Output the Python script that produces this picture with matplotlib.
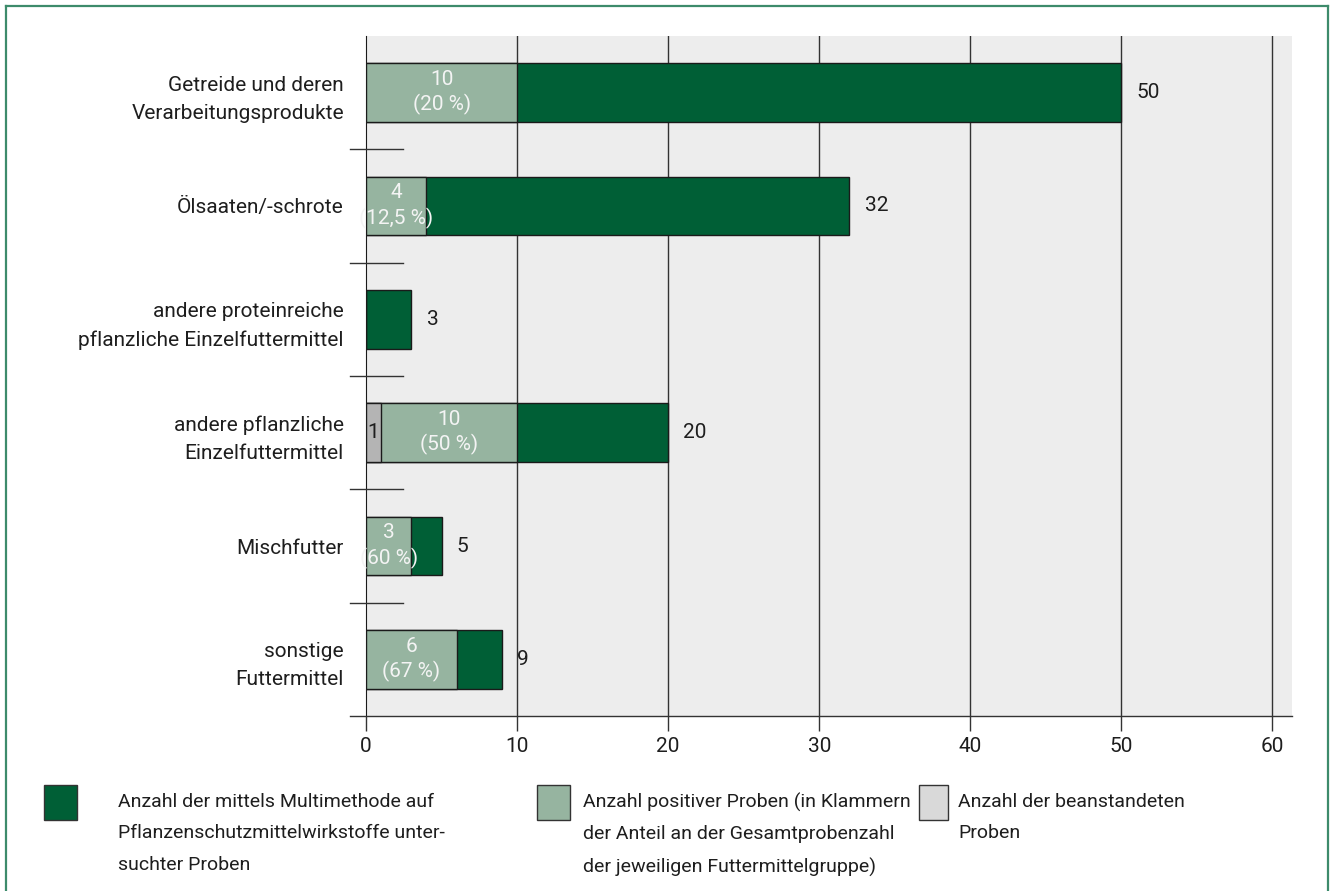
import numpy as np
import matplotlib
matplotlib.use("Agg")
import matplotlib.pyplot as plt
from matplotlib.patches import Rectangle
from matplotlib.lines import Line2D

plt.rcParams['font.family'] = ['Roboto', 'DejaVu Sans']

# Futtermittelgruppen und Probenzahlen
gruppen = ["Getreide und deren\nVerarbeitungsprodukte",
           "Ölsaaten/-schrote",
           "andere proteinreiche\npflanzliche Einzelfuttermittel",
           "andere pflanzliche\nEinzelfuttermittel",
           "Mischfutter",
           "sonstige\nFuttermittel"]
untersucht = [50, 32, 3, 20, 5, 9]
positiv = [10, 4, 0, 10, 3, 6]
anteil = ["20 %", "12,5 %", "", "50 %", "60 %", "67 %"]
beanstandet = [0, 0, 0, 1, 0, 0]
xticks = [0, 10, 20, 30, 40, 50, 60]

legende = ["Anzahl der mittels Multimethode auf\nPflanzenschutzmittelwirkstoffe unter-\nsuchter Proben",
           "Anzahl positiver Proben (in Klammern\nder Anteil an der Gesamtprobenzahl\nder jeweiligen Futtermittelgruppe)",
           "Anzahl der beanstandeten\nProben"]

dunkelgruen = "#005f36"
hellgruen = "#96b4a0"
grau = "#b4b4b4"
grau_leg = "#d9d9d9"
rahmen = "#3d8b6b"
textfarbe = "#1e1e1e"
fs = 15

fig = plt.figure(figsize=(13.35, 8.91), dpi=100)
ax = fig.add_axes([0.2742, 0.1964, 0.6936, 0.7632])
ax.set_facecolor("#ededed")

y = np.arange(len(gruppen))
h = 0.52

ax.barh(y, untersucht, height=h, color=dunkelgruen, edgecolor="#1a1a1a", lw=1, zorder=3)
ax.barh(y, positiv, height=h, color=hellgruen, edgecolor="#1a1a1a", lw=1, zorder=4)
mask = np.array(beanstandet) > 0
ax.barh(y[mask], np.array(beanstandet)[mask], height=h, color=grau,
        edgecolor="#1a1a1a", lw=1, zorder=5)

for i in range(len(gruppen)):
    ax.annotate(str(untersucht[i]), (untersucht[i], y[i]), xytext=(11, 0),
                textcoords="offset points", va="center", ha="left",
                fontsize=fs, color=textfarbe, zorder=6)
    if positiv[i] > 0:
        start = beanstandet[i]
        mitte = start + (positiv[i] - start) / 2
        ax.text(mitte, y[i], f"{positiv[i]}\n({anteil[i]})", ha="center", va="center",
                fontsize=fs, color="#f4f4f4", linespacing=1.3, zorder=6)
    if beanstandet[i] > 0:
        ax.text(beanstandet[i] / 2, y[i], str(beanstandet[i]), ha="center", va="center",
                fontsize=fs, color=textfarbe, zorder=6)

ax.set_xlim(0, 61.3)
ax.set_ylim(5.5, -0.5)
ax.set_yticks(y)
ax.set_yticklabels(gruppen, fontsize=fs, color=textfarbe, linespacing=1.6)
ax.tick_params(axis="y", length=0, pad=16)
ax.set_xticks(xticks)
ax.set_xticklabels([str(t) for t in xticks], fontsize=fs, color=textfarbe)
ax.tick_params(axis="x", length=11, width=1, color="#333333", pad=4)

for t in xticks[1:]:
    ax.axvline(t, color="#333333", lw=1, zorder=2)

for s in ["top", "right"]:
    ax.spines[s].set_visible(False)
ax.spines["left"].set_color("#1a1a1a")
ax.spines["bottom"].set_visible(False)

# Trennlinien zwischen den Gruppen und verlängerte Grundlinie
for yy in np.arange(0.5, 5.5, 1.0):
    ax.plot([-1.06, 2.45], [yy, yy], color="#333333", lw=1, clip_on=False, zorder=7)
ax.plot([-1.06, 61.3], [5.5, 5.5], color="#333333", lw=1, clip_on=False, zorder=7)

# Legende unter dem Diagramm
W, H = 1335.0, 891.0
farben = [dunkelgruen, hellgruen, grau_leg]
lx = [44, 537, 919]
lw_box = [33, 33, 29]
tx = [118, 583, 958]
for f, x0, bw, x1, txt in zip(farben, lx, lw_box, tx, legende):
    fig.add_artist(Rectangle((x0 / W, 1 - 820 / H), bw / W, 35 / H, transform=fig.transFigure,
                             facecolor=f, edgecolor="#333333", lw=1))
    fig.text(x1 / W, 1 - 793 / H, txt, ha="left", va="top", fontsize=14,
             color=textfarbe, linespacing=1.95)

# Rahmen
for xs, ys in [([6, 6], [891, 6]), ([6, 1328], [6, 6]), ([1328, 1328], [6, 891])]:
    fig.add_artist(Line2D([v / W for v in xs], [1 - v / H for v in ys],
                          transform=fig.transFigure, color=rahmen, lw=1.6))

fig.savefig("out.png", dpi=100)
